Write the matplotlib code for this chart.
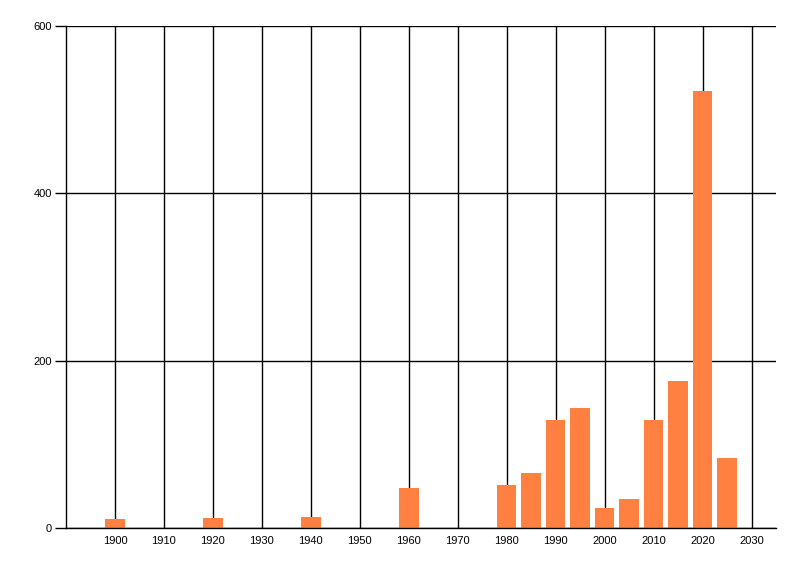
import matplotlib
matplotlib.use("Agg")
import matplotlib.pyplot as plt

# year bins and counts
years = [1900, 1920, 1940, 1960, 1980, 1985, 1990, 1995, 2000, 2005, 2010, 2015, 2020, 2025]
counts = [11, 12, 13, 48, 51, 66, 129, 143, 24, 35, 129, 176, 522, 84]
x_ticks = list(range(1900, 2031, 10))
y_ticks = [0, 200, 400, 600]

plt.rcParams['font.family'] = ['Liberation Sans', 'DejaVu Sans']

fig = plt.figure(figsize=(8, 5.76), dpi=100)
ax = fig.add_axes([66 / 800, 1 - 528 / 576, (776 - 66) / 800, (528 - 26) / 576])

ax.set_axisbelow(True)
ax.bar(years, counts, width=4, color='#FF8040', zorder=2)

ax.set_xlim(1890, 2035)
ax.set_ylim(0, 600)
ax.set_xticks(x_ticks)
ax.set_yticks(y_ticks)
ax.tick_params(axis='x', length=0, pad=6, labelsize=8)
ax.tick_params(axis='y', length=8, width=1, pad=2, labelsize=8)

ax.grid(True, color='black', linewidth=1)
for side in ['top', 'right']:
    ax.spines[side].set_visible(False)
for side in ['left', 'bottom']:
    ax.spines[side].set_linewidth(1)

fig.savefig('out.png', dpi=100)
